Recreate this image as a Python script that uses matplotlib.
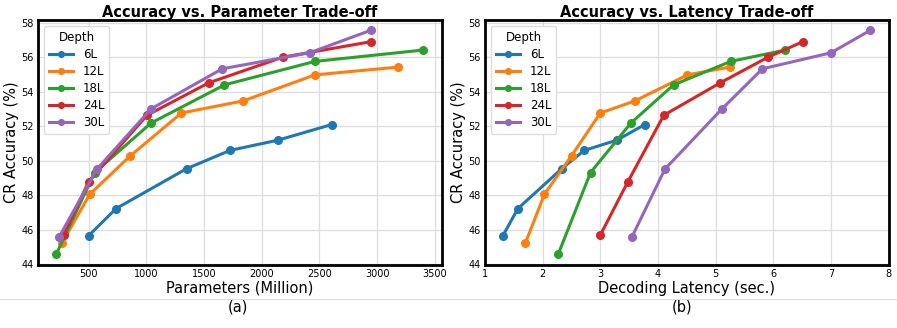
import numpy as np
import matplotlib.pyplot as plt

# Data
depths = ['6L', '12L', '18L', '24L', '30L']
colors = ['#1f77b4', '#ff7f0e', '#2ca02c', '#d62728', '#9467bd']

params_6 = [500, 737, 1348, 1724, 2143, 2606]
params_12 = [269, 509, 862, 1304, 1839, 2461, 3181]
params_18 = [219, 552, 1041, 1677, 2461, 3401]
params_24 = [283, 500, 1006, 1541, 2186, 2944]
params_30 = [245, 572, 1041, 1657, 2415, 2944]

latency_6 = [1.31, 1.57, 2.33, 2.72, 3.29, 3.77]
latency_12 = [1.70, 2.03, 2.50, 3.00, 3.60, 4.51, 5.24]
latency_18 = [2.27, 2.83, 3.53, 4.27, 5.26, 6.21]
latency_24 = [3.00, 3.48, 4.10, 5.08, 5.91, 6.51]
latency_30 = [3.55, 4.12, 5.11, 5.81, 7.00, 7.68]

acc_6 = [45.65, 47.22, 49.53, 50.59, 51.19, 52.09]
acc_12 = [45.22, 48.05, 50.28, 52.76, 53.46, 54.97, 55.42]
acc_18 = [44.58, 49.31, 52.18, 54.39, 55.75, 56.41]
acc_24 = [45.69, 48.79, 52.63, 54.51, 56.00, 56.89]
acc_30 = [45.59, 49.51, 53.00, 55.32, 56.25, 57.55]

params = [params_6, params_12, params_18, params_24, params_30]
latency = [latency_6, latency_12, latency_18, latency_24, latency_30]
acc = [acc_6, acc_12, acc_18, acc_24, acc_30]

fig = plt.figure(figsize=(8.97, 3.28), dpi=100)
ax1 = fig.add_axes([0.0424, 0.192, 0.450, 0.747])
ax2 = fig.add_axes([0.5407, 0.192, 0.450, 0.747])


def style_axis(ax, title, xlabel):
    ax.set_title(title, fontsize=10.5, fontweight='bold', pad=2)
    ax.set_xlabel(xlabel, fontsize=10.5, labelpad=1)
    ax.set_ylabel('CR Accuracy (%)', fontsize=10.5, labelpad=2)
    ax.grid(True, color='#dddddd', linewidth=0.9)
    ax.set_axisbelow(True)
    ax.tick_params(labelsize=7, length=0, pad=3)
    for s in ax.spines.values():
        s.set_color('black')
        s.set_linewidth(2)
    ax.set_ylim(43.95, 58.15)
    ax.set_yticks(np.arange(44, 59, 2))
    leg = ax.legend(title='Depth', fontsize=8.5, title_fontsize=8.5,
                    loc='upper left', handlelength=2.1, borderpad=0.4,
                    labelspacing=0.35, framealpha=1, markerscale=0.75)
    leg.get_frame().set_edgecolor('#dddddd')


for name, col, x, y in zip(depths, colors, params, acc):
    ax1.plot(x, y, '-o', color=col, lw=2.2, ms=5.5, label=name)
for name, col, x, y in zip(depths, colors, latency, acc):
    ax2.plot(x, y, '-o', color=col, lw=2.2, ms=5.5, label=name)

ax1.set_xticks(np.arange(500, 3501, 500))
ax1.set_xlim(61, 3560)
ax2.set_xlim(1, 8)
ax2.set_xticks(np.arange(1, 9, 1))

style_axis(ax1, 'Accuracy vs. Parameter Trade-off', 'Parameters (Million)')
style_axis(ax2, 'Accuracy vs. Latency Trade-off', 'Decoding Latency (sec.)')

# separator and captions
fig.add_artist(plt.Line2D([0.0, 1.0], [1 - 299 / 328, 1 - 299 / 328],
                          color='#dddddd', lw=0.8, transform=fig.transFigure))
fig.text(238 / 897, 1 - 307 / 328, '(a)', ha='center', va='center', fontsize=10.5)
fig.text(682 / 897, 1 - 307 / 328, '(b)', ha='center', va='center', fontsize=10.5)

fig.savefig('out.png', dpi=100)
